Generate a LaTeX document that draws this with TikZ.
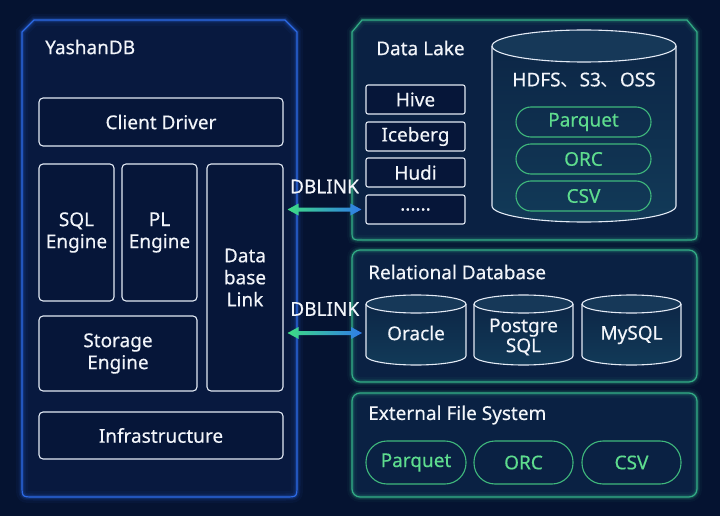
\documentclass[tikz,border=0pt]{standalone}
\usepackage{fontspec}
\setmainfont{Noto Sans}[FakeBold=0.35]
\newfontfamily\cjk{Noto Sans CJK SC}
\usetikzlibrary{calc}
\definecolor{bg}{HTML}{051331}
\definecolor{lpfill}{HTML}{08193F}
\definecolor{lpborder}{HTML}{2D6BE8}
\definecolor{rpfill}{HTML}{0A2143}
\definecolor{rpborder}{HTML}{33AE86}
\definecolor{boxline}{HTML}{E3EAF5}
\definecolor{boxfill}{HTML}{061639}
\definecolor{pillgreen}{HTML}{5EDC8E}
\definecolor{pillline}{HTML}{3FB87C}
\definecolor{cylbody}{HTML}{0C2646}
\definecolor{cylbot}{HTML}{123A58}
\definecolor{cyltop}{HTML}{163858}
\definecolor{arrowgreen}{HTML}{3DDC84}
\definecolor{arrowblue}{HTML}{2F7BEA}
\definecolor{txtwhite}{HTML}{F2F5FA}
\newcommand\mycyl[5]{%
  \pgfmathsetmacro\cxa{(#1+#2)/2}%
  \pgfmathsetmacro\rxa{(#2-#1)/2}%
  \pgfmathsetmacro\kx{0.5523*\rxa}%
  \pgfmathsetmacro\ky{0.5523*#5}%
  \pgfmathsetmacro\yt{#3+#5}%
  \pgfmathsetmacro\yb{#4-#5}%
  \shade[top color=cylbody, bottom color=cylbot] (#1,\yt) -- (#1,\yb) .. controls (#1,\yb+\ky) and (\cxa-\kx,\yb+#5) .. (\cxa,\yb+#5) .. controls (\cxa+\kx,\yb+#5) and (#2,\yb+\ky) .. (#2,\yb) -- (#2,\yt) -- cycle;
  \fill[cyltop] (\cxa,\yt) ellipse [x radius=\rxa pt, y radius=#5 pt];
  \draw[boxline, line width=1.1pt] (#1,\yt) -- (#1,\yb) .. controls (#1,\yb+\ky) and (\cxa-\kx,\yb+#5) .. (\cxa,\yb+#5) .. controls (\cxa+\kx,\yb+#5) and (#2,\yb+\ky) .. (#2,\yb) -- (#2,\yt);
  \draw[boxline, line width=1.1pt] (\cxa,\yt) ellipse [x radius=\rxa pt, y radius=#5 pt];
}
\begin{document}
\begin{tikzpicture}[x=1pt,y=-1pt,
  txt/.style={text=txtwhite, font=\fontsize{19}{22}\selectfont, align=center, inner sep=0pt},
  title/.style={txt, anchor=west},
  box/.style={txt, draw=boxline, fill=boxfill, line width=1.1pt, rounded corners=4pt},
  lakebox/.style={box, rounded corners=2pt, minimum width=99pt, minimum height=29pt},
  pill/.style={txt, text=pillgreen, draw=pillline, line width=1.1pt},
  dbarrow/.style={left color=arrowgreen, right color=arrowblue}
]
\useasboundingbox (0,0) rectangle (720,516);
\fill[bg] (0,0) rectangle (720,516);

% ---------- left panel ----------
\fill[lpfill] (22,32) -- (34,20) -- (285,20) -- (297,32) -- (297,485) .. controls (297,497) .. (285,497) -- (34,497) .. controls (22,497) .. (22,485) -- cycle;
\foreach \w/\o in {12/0.05,7/0.10,4/0.18}{
  \draw[lpborder, line width=\w pt, opacity=\o] (22,32) -- (34,20) -- (285,20) -- (297,32) -- (297,485) .. controls (297,497) .. (285,497) -- (34,497) .. controls (22,497) .. (22,485) -- cycle;}
\draw[lpborder, line width=1.2pt] (22,32) -- (34,20) -- (285,20) -- (297,32) -- (297,485) .. controls (297,497) .. (285,497) -- (34,497) .. controls (22,497) .. (22,485) -- cycle;

\node[title] (yashan) at (45,47) {YashanDB};
\node[box, minimum width=244pt, minimum height=48pt] (client) at (161,122) {Client Driver};
\node[box, minimum width=75pt, minimum height=137pt] (sql) at (76.5,232.5) {SQL\\Engine};
\node[box, minimum width=75pt, minimum height=137pt] (pl) at (159.5,232.5) {PL\\Engine};
\node[box, minimum width=76pt, minimum height=227pt] (link) at (245,277.5) {Data\\base\\Link};
\node[box, minimum width=158pt, minimum height=75pt] (storage) at (118,353.5) {Storage\\Engine};
\node[box, minimum width=244pt, minimum height=47pt] (infra) at (161,435.5) {Infrastructure};

% ---------- right panels ----------
\fill[rpfill] (352,32) -- (362,20) -- (687,20) -- (697,32) -- (697,230) .. controls (697,240) .. (687,240) -- (362,240) .. controls (352,240) .. (352,230) -- cycle;
\fill[rpfill, rounded corners=8pt] (352,250) rectangle (697,382);
\fill[rpfill, rounded corners=8pt] (352,393) rectangle (697,497);
\foreach \w/\o in {10/0.05,6/0.10,3.5/0.18}{
  \draw[rpborder, line width=\w pt, opacity=\o] (352,32) -- (362,20) -- (687,20) -- (697,32) -- (697,230) .. controls (697,240) .. (687,240) -- (362,240) .. controls (352,240) .. (352,230) -- cycle;
  \draw[rpborder, line width=\w pt, opacity=\o, rounded corners=8pt] (352,250) rectangle (697,382);
  \draw[rpborder, line width=\w pt, opacity=\o, rounded corners=8pt] (352,393) rectangle (697,497);}
\draw[rpborder, line width=1.2pt] (352,32) -- (362,20) -- (687,20) -- (697,32) -- (697,230) .. controls (697,240) .. (687,240) -- (362,240) .. controls (352,240) .. (352,230) -- cycle;
\draw[rpborder, line width=1.2pt, rounded corners=8pt] (352,250) rectangle (697,382);
\draw[rpborder, line width=1.2pt, rounded corners=8pt] (352,393) rectangle (697,497);

% Data Lake
\node[title] (lake) at (376,48) {Data Lake};
\node[lakebox] (hive) at (415.5,99.5) {Hive};
\node[lakebox] (iceberg) at (415.5,136.5) {Iceberg};
\node[lakebox] (hudi) at (415.5,172.5) {Hudi};
\node[lakebox] (dots) at (415.5,209.5) {......};
\mycyl{492}{676}{30}{222}{16}
\node[txt] (hdfs) at (584,80) {HDFS{\cjk 、}S3{\cjk 、}OSS};
\node[pill, minimum width=135pt, minimum height=30pt, rounded corners=15pt] (lparquet) at (583.5,122) {Parquet};
\node[pill, minimum width=135pt, minimum height=30pt, rounded corners=15pt] (lorc) at (583.5,159) {ORC};
\node[pill, minimum width=135pt, minimum height=30pt, rounded corners=15pt] (lcsv) at (583.5,196) {CSV};

% Relational Database
\node[title] (rdb) at (368,272) {Relational Database};
\mycyl{366}{466}{295}{365}{9}
\mycyl{474}{573}{295}{365}{9}
\mycyl{582}{681}{295}{365}{9}
\coordinate (oraclew) at (366,333);
\node[txt] (oracle) at (416,333) {Oracle};
\node[txt, font=\fontsize{19}{20}\selectfont] (postgre) at (523.5,337) {Postgre\\SQL};
\node[txt] (mysql) at (631.5,335) {MySQL};

% External File System
\node[title] (efs) at (368,415) {External File System};
\node[pill, minimum width=100pt, minimum height=43pt, rounded corners=21pt] (eparquet) at (416,462.5) {Parquet};
\node[pill, minimum width=99pt, minimum height=43pt, rounded corners=21pt] (eorc) at (523.5,462.5) {ORC};
\node[pill, minimum width=99pt, minimum height=43pt, rounded corners=21pt] (ecsv) at (631.5,462.5) {CSV};

% ---------- DBLINK arrows ----------
\coordinate (a1L) at ($(link.east |- dots.west)+(4,0)$);
\coordinate (a1R) at ($(dots.west)+(-4,0)$);
\coordinate (a2L) at ($(link.east |- oraclew)+(4,0)$);
\coordinate (a2R) at ($(oraclew)+(-4,0)$);
\foreach \L/\R in {a1L/a1R,a2L/a2R}{
  \shade[dbarrow] (\L) -- ($(\L)+(11,-6)$) -- ($(\L)+(11,-2)$) -- ($(\R)+(-11,-2)$) -- ($(\R)+(-11,-6)$) -- (\R) -- ($(\R)+(-11,6)$) -- ($(\R)+(-11,2)$) -- ($(\L)+(11,2)$) -- ($(\L)+(11,6)$) -- cycle;}
\node[txt] (dbl1) at ($(a1L)!0.5!(a1R)+(0,-23)$) {DBLINK};
\node[txt] (dbl2) at ($(a2L)!0.5!(a2R)+(0,-24)$) {DBLINK};
\end{tikzpicture}
\end{document}
